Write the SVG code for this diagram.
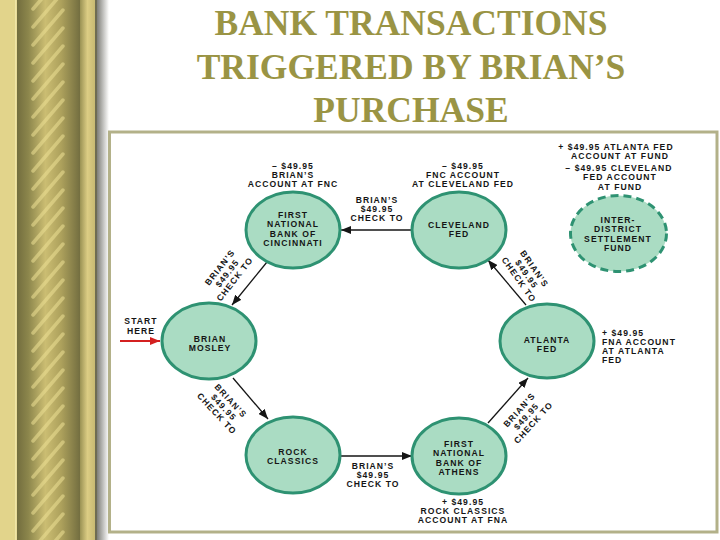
<svg xmlns="http://www.w3.org/2000/svg" width="720" height="540" viewBox="0 0 720 540">
<defs>
<style>
.node ellipse{fill:#aadcc3;stroke:#2e9272;stroke-width:3}
.node ellipse.dash{stroke-dasharray:8 5}
.t{font-family:"Liberation Sans",Arial,sans-serif;font-weight:bold;font-size:8.6px;letter-spacing:1.05px;fill:#151515;text-anchor:middle}
.l{text-anchor:start}
.title{font-family:"Liberation Serif","Times New Roman",serif;font-weight:bold;font-size:35.5px;fill:#9a9444;text-anchor:middle}
.conn line{stroke:#151515;stroke-width:1.3;marker-end:url(#ah)}
.conn line.red{stroke:#d42020;stroke-width:2;marker-end:url(#ahr)}
</style>
<marker id="ah" viewBox="0 0 10 8" refX="10" refY="4" markerWidth="10" markerHeight="8" markerUnits="userSpaceOnUse" orient="auto"><path d="M0,0 L10,4 L0,8 z" fill="#151515"/></marker>
<marker id="ahr" viewBox="0 0 10 8" refX="10" refY="4" markerWidth="10" markerHeight="8" markerUnits="userSpaceOnUse" orient="auto"><path d="M0,0 L10,4 L0,8 z" fill="#d42020"/></marker>
<linearGradient id="rope" x1="0" x2="1" y1="0" y2="0">
<stop offset="0" stop-color="#726d3e"/>
<stop offset="0.18" stop-color="#8c864c"/>
<stop offset="0.45" stop-color="#cbbd72"/>
<stop offset="0.7" stop-color="#ada15c"/>
<stop offset="1" stop-color="#736e40"/>
</linearGradient>
<linearGradient id="strip" x1="0" x2="1" y1="0" y2="0">
<stop offset="0" stop-color="#9a9254"/>
<stop offset="0.5" stop-color="#dccd84"/>
<stop offset="1" stop-color="#c8ba72"/>
</linearGradient>
<linearGradient id="shadow" x1="0" x2="1" y1="0" y2="0">
<stop offset="0" stop-color="#7e7e78"/>
<stop offset="1" stop-color="#ffffff"/>
</linearGradient>
<pattern id="stripes" patternUnits="userSpaceOnUse" x="0" y="0" width="80" height="18">
<g stroke="#ece094" stroke-width="3.5" stroke-linecap="round" opacity="0.55">
<path d="M33,27 L63,-8"/><path d="M33,9 L63,-26"/><path d="M33,45 L63,10"/>
</g>
</pattern>
</defs>

<!-- page background and decorative border -->
<rect x="0" y="0" width="720" height="540" fill="#ffffff"/>
<rect x="0" y="0" width="17" height="540" fill="#e2d48b"/>
<rect x="15" y="0" width="1.5" height="540" fill="#efe4a6"/>
<rect x="17" y="0" width="63" height="540" fill="url(#rope)"/>
<rect x="17" y="0" width="63" height="540" fill="url(#stripes)"/>
<rect x="80" y="0" width="15" height="540" fill="url(#strip)"/>
<rect x="95" y="0" width="2" height="540" fill="#6e6c52"/>
<rect x="97" y="0" width="12" height="540" fill="url(#shadow)"/>

<!-- title -->
<g id="title">
<text class="title" x="411" y="35">BANK TRANSACTIONS</text>
<text class="title" x="411" y="79">TRIGGERED BY BRIAN’S</text>
<text class="title" x="411" y="122">PURCHASE</text>
</g>

<!-- frame -->
<rect x="109.5" y="132" width="607.5" height="400" fill="#ffffff" stroke="#b3b189" stroke-width="3"/>

<!-- connectors -->
<g id="connectors" class="conn">
<line x1="412" y1="230" x2="341" y2="230"/>
<line x1="267" y1="262" x2="232" y2="305"/>
<line x1="233" y1="378" x2="268" y2="419"/>
<line x1="341" y1="456" x2="412" y2="456"/>
<line x1="488" y1="423" x2="528" y2="378"/>
<line x1="526" y1="305" x2="488" y2="260"/>
<line class="red" x1="120" y1="341" x2="160" y2="341"/>
</g>

<!-- connector labels -->
<g id="connector-labels">
<g><text class="t" x="377" y="202.5">BRIAN’S</text><text class="t" x="377" y="211.5">$49.95</text><text class="t" x="377" y="220.5">CHECK TO</text></g>
<g transform="translate(227,273) rotate(-52)"><text class="t" x="0" y="-6.1">BRIAN’S</text><text class="t" x="0" y="3.4">$49.95</text><text class="t" x="0" y="12.9">CHECK TO</text></g>
<g transform="translate(224,407) rotate(47)"><text class="t" x="0" y="-6.1">BRIAN’S</text><text class="t" x="0" y="3.4">$49.95</text><text class="t" x="0" y="12.9">CHECK TO</text></g>
<g><text class="t" x="373" y="468.5">BRIAN’S</text><text class="t" x="373" y="477.5">$49.95</text><text class="t" x="373" y="486.5">CHECK TO</text></g>
<g transform="translate(526,416) rotate(-48)"><text class="t" x="0" y="-6.1">BRIAN’S</text><text class="t" x="0" y="3.4">$49.95</text><text class="t" x="0" y="12.9">CHECK TO</text></g>
<g transform="translate(527,274) rotate(55)"><text class="t" x="0" y="-6.1">BRIAN’S</text><text class="t" x="0" y="3.4">$49.95</text><text class="t" x="0" y="12.9">CHECK TO</text></g>
<g><text class="t" x="141" y="324">START</text><text class="t" x="141" y="333.5">HERE</text></g>
</g>

<!-- nodes -->
<g id="node-fnc" class="node">
<ellipse cx="293" cy="230" rx="47" ry="38"/>
<text class="t" x="293" y="217.5">FIRST</text>
<text class="t" x="293" y="227">NATIONAL</text>
<text class="t" x="293" y="236.5">BANK OF</text>
<text class="t" x="293" y="246">CINCINNATI</text>
<text class="t" x="293" y="168.5">– $49.95</text>
<text class="t" x="293" y="177.5">BRIAN’S</text>
<text class="t" x="293" y="186.5">ACCOUNT AT FNC</text>
</g>

<g id="node-cleveland" class="node">
<ellipse cx="459" cy="230" rx="47" ry="38"/>
<text class="t" x="459" y="227.5">CLEVELAND</text>
<text class="t" x="459" y="237">FED</text>
<text class="t" x="463" y="168.5">– $49.95</text>
<text class="t" x="463" y="177.5">FNC ACCOUNT</text>
<text class="t" x="463" y="186.5">AT CLEVELAND FED</text>
</g>

<g id="node-fund" class="node">
<ellipse class="dash" cx="618.5" cy="233.5" rx="48" ry="38"/>
<text class="t" x="618" y="222.5">INTER-</text>
<text class="t" x="618" y="232">DISTRICT</text>
<text class="t" x="618" y="241.5">SETTLEMENT</text>
<text class="t" x="618" y="251">FUND</text>
<text class="t" x="616" y="149.5">+ $49.95 ATLANTA FED</text>
<text class="t" x="620" y="158.5">ACCOUNT AT FUND</text>
<text class="t" x="619" y="170.5">– $49.95 CLEVELAND</text>
<text class="t" x="620" y="180">FED ACCOUNT</text>
<text class="t" x="620" y="189.5">AT FUND</text>
</g>

<g id="node-brian" class="node">
<ellipse cx="209" cy="341" rx="47" ry="38"/>
<text class="t" x="210" y="341.5">BRIAN</text>
<text class="t" x="210" y="350.5">MOSLEY</text>
</g>

<g id="node-atlanta" class="node">
<ellipse cx="547" cy="341" rx="47" ry="37"/>
<text class="t" x="547" y="342.5">ATLANTA</text>
<text class="t" x="547" y="351.5">FED</text>
<text class="t l" x="602" y="335.5">+ $49.95</text>
<text class="t l" x="602" y="344.5">FNA ACCOUNT</text>
<text class="t l" x="602" y="353.5">AT ATLANTA</text>
<text class="t l" x="602" y="362.5">FED</text>
</g>

<g id="node-rock" class="node">
<ellipse cx="293" cy="455" rx="47" ry="38"/>
<text class="t" x="293" y="454.5">ROCK</text>
<text class="t" x="293" y="463.5">CLASSICS</text>
</g>

<g id="node-athens" class="node">
<ellipse cx="459" cy="456" rx="47" ry="38"/>
<text class="t" x="459" y="446.5">FIRST</text>
<text class="t" x="459" y="456">NATIONAL</text>
<text class="t" x="459" y="465.5">BANK OF</text>
<text class="t" x="459" y="474.5">ATHENS</text>
<text class="t" x="463" y="504.5">+ $49.95</text>
<text class="t" x="463" y="513.5">ROCK CLASSICS</text>
<text class="t" x="463" y="522.5">ACCOUNT AT FNA</text>
</g>
</svg>
